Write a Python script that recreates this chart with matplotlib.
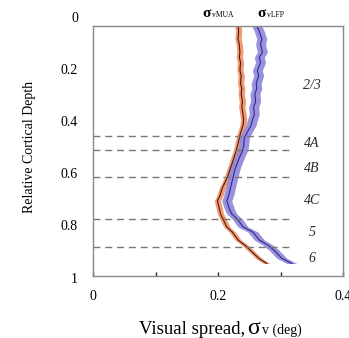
import numpy as np
import matplotlib
matplotlib.use("Agg")
import matplotlib.pyplot as plt
import matplotlib.transforms as mtransforms

plt.rcParams['font.family'] = ['Liberation Serif', 'DejaVu Serif']

# relative cortical depth of each sample (0 = surface)
depth = [0.03, 0.05, 0.08, 0.10, 0.13, 0.15, 0.17, 0.20, 0.22, 0.25,
         0.27, 0.29, 0.32, 0.34, 0.37, 0.39, 0.41, 0.44, 0.46, 0.49,
         0.51, 0.53, 0.56, 0.58, 0.61, 0.63, 0.65, 0.68, 0.70, 0.73,
         0.75, 0.77, 0.80, 0.82, 0.85, 0.87, 0.89, 0.92, 0.94]

# visual spread (deg), multi-unit activity
sigma_mua = [0.232, 0.233, 0.232, 0.234, 0.235, 0.234, 0.236, 0.235, 0.237, 0.236,
             0.238, 0.237, 0.239, 0.238, 0.240, 0.241, 0.240, 0.236, 0.234, 0.231,
             0.229, 0.226, 0.222, 0.219, 0.215, 0.211, 0.207, 0.203, 0.199, 0.202,
             0.204, 0.208, 0.214, 0.223, 0.232, 0.243, 0.252, 0.265, 0.278]
sem_mua = 0.005

# visual spread (deg), local field potential
sigma_lfp = [0.262, 0.266, 0.270, 0.268, 0.271, 0.266, 0.268, 0.263, 0.265, 0.261,
             0.262, 0.259, 0.260, 0.257, 0.258, 0.255, 0.253, 0.246, 0.242, 0.241,
             0.239, 0.235, 0.230, 0.227, 0.224, 0.222, 0.220, 0.217, 0.214, 0.218,
             0.222, 0.231, 0.240, 0.256, 0.266, 0.280, 0.290, 0.302, 0.318]
sem_lfp = 0.008

# cortical layer boundaries and labels
layer_bounds = [0.45, 0.505, 0.61, 0.77, 0.875]
layer_names = ['2/3', '4A', '4B', '4C', '5', '6']
layer_label_depth = [0.257, 0.479, 0.575, 0.697, 0.82, 0.92]

ytick_vals = [0, 0.2, 0.4, 0.6, 0.8, 1]
ytick_text = ['0', '0.2', '0.4', '0.6', '0.8', '1']

W, H = 349, 338
fig = plt.figure(figsize=(W / 100, H / 100), dpi=100)
ax = fig.add_axes([0.2665, 0.1834, 0.7165, 0.7396])


def ptext(px, py, s, **kw):
    # place text by pixel position measured from the top-left corner
    return fig.text(px / W, 1 - py / H, s, **kw)


d = np.array(depth)
mua = np.array(sigma_mua)
lfp = np.array(sigma_lfp)

ax.fill_betweenx(d, mua - sem_mua, mua + sem_mua, color='#f29a72', lw=0)
ax.plot(mua, d, color='#4a1a10', lw=0.8)
ax.fill_betweenx(d, lfp - sem_lfp, lfp + sem_lfp, color='#8f86dc', lw=0, alpha=0.9)
ax.plot(lfp, d, color='#2a2a88', lw=0.8)

for yb in layer_bounds:
    ax.plot([0, 0.318], [yb, yb], color='#777777', lw=1.0, ls=(0, (5, 3.5)))

for name, yl in zip(layer_names, layer_label_depth):
    ax.text(0.35, yl, name, fontsize=10, style='italic', color='#2a2a2a',
            ha='center', va='center')

ax.set_xlim(0, 0.4)
ax.set_ylim(0.988, 0.03)

ax.set_xticks([0, 0.1, 0.2, 0.3, 0.4])
ax.set_xticklabels(['0', '', '0.2', '', '0.4'], fontsize=10)
ax.tick_params(axis='x', direction='in', length=3, width=1, pad=10, color='#222222')
ax.set_yticks([])

trans = mtransforms.blended_transform_factory(ax.transAxes, ax.transData)
for v, t in zip(ytick_vals, ytick_text):
    ax.text(-0.06, v, t, transform=trans, fontsize=10, ha='right', va='center',
            clip_on=False)

for sp in ax.spines.values():
    sp.set_color('#888888')
    sp.set_linewidth(1.0)

ax.text(-0.252, 0.516, 'Relative Cortical Depth', transform=ax.transAxes,
        rotation=90, fontsize=10, ha='center', va='center')

# x label: big sigma with a small subscript
ptext(139, 334, 'Visual spread,', fontsize=13.5, ha='left', va='baseline')
ptext(247, 334, 'σ', fontsize=17, ha='left', va='baseline')
ptext(262, 334, 'v (deg)', fontsize=10, ha='left', va='baseline')

# series labels above the axes
ptext(202, 17, 'σ', fontsize=11, fontweight='bold', ha='left', va='baseline')
ptext(212, 17, 'vMUA', fontsize=5.5, ha='left', va='baseline')
ptext(257, 17, 'σ', fontsize=11, fontweight='bold', ha='left', va='baseline')
ptext(267, 17, 'vLFP', fontsize=5.5, ha='left', va='baseline')

fig.savefig('out.png', dpi=100)
